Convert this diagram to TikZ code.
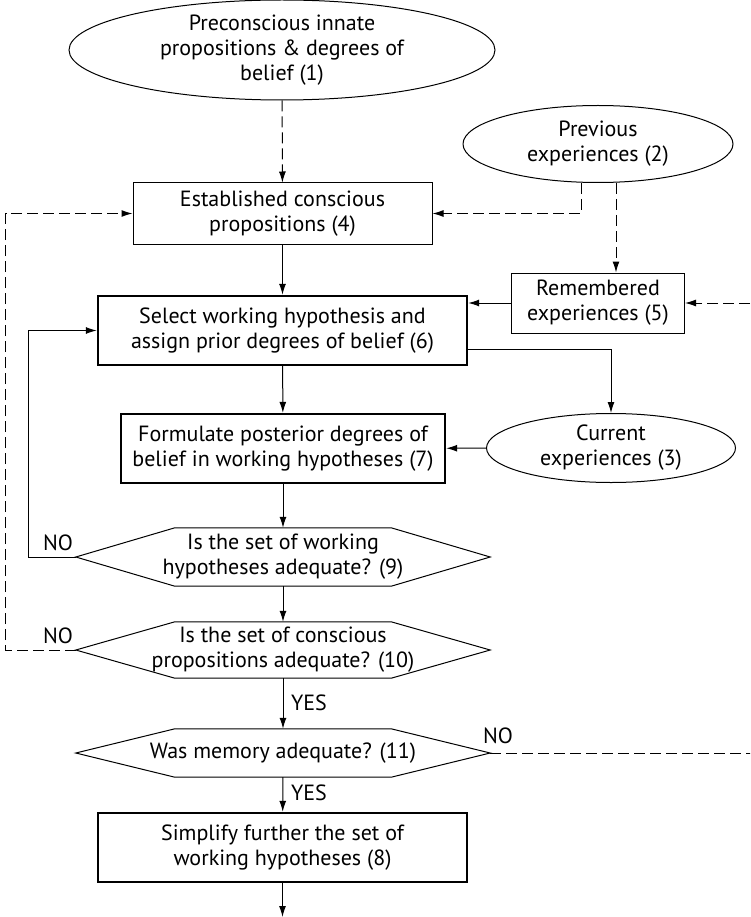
\documentclass[tikz,border=0pt]{standalone}
\usepackage{fontspec}
\setmainfont{PT Sans}
\usetikzlibrary{arrows.meta, shapes.geometric}

\tikzset{
  terminal/.style={ellipse, inner sep=0pt, align=center, line width=1pt},
  process/.style={rectangle, inner sep=0pt, align=center, line width=1pt},
  heavy/.style={line width=2.4pt},
  decision/.style={rectangle, inner sep=0pt, align=center, minimum width=414pt},
  flow/.style={-{Latex[length=11pt,width=7pt]}, line width=1pt},
  weak/.style={flow, dash pattern=on 11pt off 5pt},
}

\begin{document}
\begin{tikzpicture}[x=1pt, y=-1pt, font=\fontsize{22}{25}\selectfont]
        \useasboundingbox (0,0) rectangle (750,917);
        \clip (0,0) rectangle (750,917);
        \node (A) at (282,50) [draw, terminal, minimum width=426pt, minimum height=100pt] {Preconscious innate\\propositions \& degrees of\\belief (1)};
        \node (B) at (598,144) [draw, terminal, minimum width=270pt, minimum height=77pt] {Previous\\experiences (2)};
        \node (D) at (282.5,213.5) [draw, process, minimum width=299pt, minimum height=61pt] {Established conscious\\propositions (4)};
        \node (E) at (598,303) [draw, process, minimum width=173pt, minimum height=60pt] {Remembered\\experiences (5)};
        \node (F) at (282.5,330.5) [draw, process, heavy, minimum width=369pt, minimum height=69pt] {Select working hypothesis and\\assign prior degrees of belief (6)};
        \node (G) at (283,448.5) [draw, process, heavy, minimum width=324pt, minimum height=69pt] {Formulate posterior degrees of\\belief in working hypotheses (7)};
        \node (C) at (611,448) [draw, terminal, minimum width=249pt, minimum height=69pt] {Current\\experiences (3)};
        \node (H) at (283,557) [decision, minimum height=58pt] {Is the set of working\\hypotheses adequate? (9)};
        \node (I) at (283,650) [decision, minimum height=56pt] {Is the set of conscious\\propositions adequate? (10)};
        \node (K) at (283,753) [decision, minimum height=48pt] {Was memory adequate? (11)};
        \node (J) at (282.5,847.5) [draw, process, heavy, minimum width=369pt, minimum height=69pt] {Simplify further the set of\\working hypotheses (8)};
        \coordinate (out) at (282.5,917);

        \foreach \q in {H,I,K}
            \draw[line width=1pt] (\q.west) -- ([xshift=99pt]\q.north west) -- ([xshift=-99pt]\q.north east)
                -- (\q.east) -- ([xshift=-99pt]\q.south east) -- ([xshift=99pt]\q.south west) -- cycle;

        \node (no1) at (58,543) {NO};
        \node (no2) at (58,636) {NO};
        \node (no3) at (498,736) {NO};
        \node (yes1) at (309,703) {YES};
        \node (yes2) at (309,793) {YES};

        \draw[weak] (A) -- (D);
        \draw[weak] ([xshift=-17pt]B.south) |- (D.east);
        \draw[weak] ([xshift=18pt]B.south) -- ([xshift=18pt]E.north);
        \draw[flow] (E.west) -- (E.west -| F.east);
        \draw[weak] (K.east) -- ++(265,0) |- (E.east);
        \draw[flow] (D) -- (F);
        \draw[flow] (F) -- (G);
        \draw[flow] ([yshift=-18.5pt]F.east) -| (C.north);
        \draw[flow] (C) -- (G);
        \draw[flow] (G) -- (H);
        \draw[flow] (H) -- (I);
        \draw[flow] (I) -- (K);
        \draw[flow] (K) -- (J);
        \draw[flow] (J) -- (out);
        \draw[flow] (H.west) -- ++(-47,0) |- (F.west);
        \draw[weak] (I.west) -- ++(-70,0) |- (D.west);

    \end{tikzpicture}
\end{document}
